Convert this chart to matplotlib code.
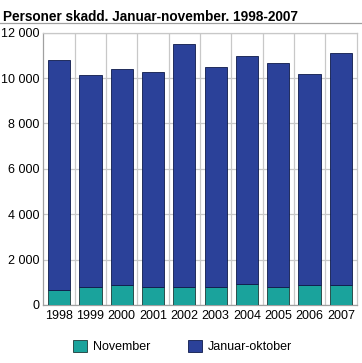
import matplotlib
matplotlib.use("Agg")
import matplotlib.pyplot as plt
from matplotlib.patches import Rectangle
from matplotlib.ticker import FuncFormatter

years = ["1998", "1999", "2000", "2001", "2002", "2003", "2004", "2005", "2006", "2007"]
november = [670, 790, 890, 790, 790, 810, 940, 790, 860, 890]
totals = [10790, 10130, 10380, 10260, 11490, 10470, 10980, 10670, 10175, 11110]
jan_okt = [t - n for t, n in zip(totals, november)]

title = "Personer skadd. Januar-november. 1998-2007"
series_names = ["November", "Januar-oktober"]

c_nov = "#1AA39C"
c_jo = "#2B4199"

plt.rcParams['font.family'] = ['Liberation Sans', 'DejaVu Sans']

fig = plt.figure(figsize=(3.62, 3.63), dpi=100)
ax = fig.add_axes([0.120, 0.160, 0.865, 0.750])

x = list(range(len(years)))
ax.bar(x, november, width=0.71, color=c_nov, edgecolor="#1c3a38", linewidth=0.6, zorder=3)
ax.bar(x, jan_okt, bottom=november, width=0.71, color=c_jo, edgecolor="#0d1a4a", linewidth=0.6, zorder=3)

ax.set_xlim(-0.5, len(years) - 0.5)
ax.set_ylim(0, 12000)
ax.set_yticks(range(0, 12001, 2000))
ax.yaxis.set_major_formatter(FuncFormatter(lambda v, p: f"{int(v):,}".replace(",", " ")))
ax.set_xticks(x)
ax.set_xticklabels(years)
ax.set_xticks([i + 0.5 for i in x[:-1]], minor=True)
ax.grid(axis="y", which="major", color="#c8c8c8", linewidth=0.9, zorder=0)
ax.grid(axis="x", which="minor", color="#c8c8c8", linewidth=0.9, zorder=0)
ax.tick_params(axis="both", which="both", length=0, labelsize=9, colors="black")
ax.tick_params(axis="x", pad=4)
ax.tick_params(axis="y", pad=3)
for s in ["top", "right"]:
    ax.spines[s].set_color("#c8c8c8")
for s in ["left", "bottom"]:
    ax.spines[s].set_color("#a0a0a0")
for s in ax.spines.values():
    s.set_linewidth(0.9)

fig.text(0.008, 0.972, title, fontsize=9.8, fontweight="bold", va="top", ha="left")
fig.add_artist(plt.Line2D([0, 1], [0.938, 0.938], color="#a0a0a0", linewidth=0.9, transform=fig.transFigure))

handles = [Rectangle((0, 0), 1, 1, facecolor=c_nov, edgecolor="#1c3a38", linewidth=0.6),
           Rectangle((0, 0), 1, 1, facecolor=c_jo, edgecolor="#0d1a4a", linewidth=0.6)]
fig.legend(handles, series_names, loc="center", bbox_to_anchor=(0.505, 0.045), ncol=2,
           frameon=False, fontsize=9, handlelength=1.1, handleheight=1.1,
           handletextpad=0.5, columnspacing=3.0)

fig.savefig("out.png", dpi=100)
